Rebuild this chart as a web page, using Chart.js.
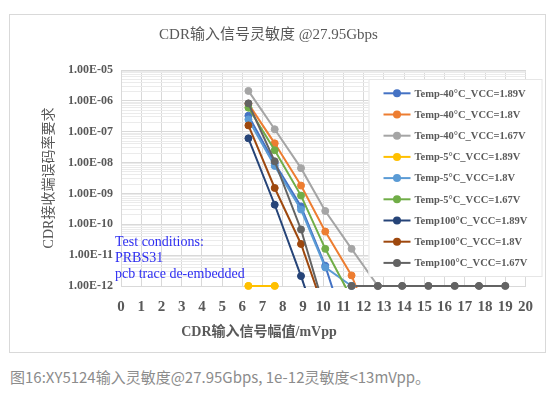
<!DOCTYPE html>
<html>
<head>
<meta charset="utf-8">
<script src="https://cdn.jsdelivr.net/npm/chart.js@4/dist/chart.umd.min.js"></script>
<style>
  body { margin: 0; background: #fff; }
  #box { position: absolute; left: 9px; top: 14px; width: 535px; height: 337px; border: 1px solid #d9d9d9; }
  #caption { position: absolute; left: 10px; top: 366px; line-height: 22px; font-size: 15px;
    font-family: "Noto Sans CJK SC", sans-serif; color: #8c8c8c; white-space: nowrap; }
</style>
</head>
<body>
<div id="box"><canvas id="chart" width="535" height="337"></canvas></div>
<div id="caption">图16:XY5124输入灵敏度@27.95Gbps, 1e-12灵敏度&lt;13mVpp。</div>
<script>
// input amplitude steps (mVpp), shared by every curve
var amplitudes = [6.3, 7.6, 8.9, 10.1, 11.4, 12.7, 13.9, 15.2, 16.5, 17.7, 19.0]

var seriesNames = [
  "Temp-40°C_VCC=1.89V",
  "Temp-40°C_VCC=1.8V",
  "Temp-40°C_VCC=1.67V",
  "Temp-5°C_VCC=1.89V",
  "Temp-5°C_VCC=1.8V",
  "Temp-5°C_VCC=1.67V",
  "Temp100°C_VCC=1.89V",
  "Temp100°C_VCC=1.8V",
  "Temp100°C_VCC=1.67V",
]
var seriesColors = ["#4472C4", "#ED7D31", "#A5A5A5", "#FFC000", "#5B9BD5", "#70AD47", "#264478", "#9E480E", "#636363"]

// bit error rate at each amplitude (values under 1e-12 run off the bottom of the plot)
var ber_m40_189 = [3.3e-7, 9.5e-9, 3.8e-10, 4.5e-12, 1e-14]
var ber_m40_18 = [8e-7, 4.2e-8, 1.8e-9, 5.8e-11, 2.2e-12, 1.5e-14]
var ber_m40_167 = [2.1e-6, 1.2e-7, 6.6e-9, 2.7e-10, 1.6e-11, 1e-12]
var ber_m5_189 = [1e-12, 1e-12]
var ber_m5_18 = [2.5e-7, 7.8e-9, 3e-10, 4e-12, 1e-12]
var ber_m5_167 = [6e-7, 2.5e-8, 8.5e-10, 1.6e-11, 4e-13]
var ber_100_189 = [6.1e-8, 4.3e-10, 2.1e-12, 1e-14]
var ber_100_18 = [1.6e-7, 1.5e-9, 2.3e-11, 1.3e-13]
var ber_100_167 = [8.3e-7, 1.1e-8, 6.8e-11, 1.5e-13, 1e-12, 1e-12, 1e-12, 1e-12, 1e-12, 1e-12, 1e-12]

var seriesValues = [ber_m40_189, ber_m40_18, ber_m40_167, ber_m5_189, ber_m5_18, ber_m5_167, ber_100_189, ber_100_18, ber_100_167]

var testNotes = ["Test conditions:", "PRBS31", "pcb trace de-embedded"]
var xTitle = "CDR输入信号幅值/mVpp"

var serif = '"Liberation Serif", "Noto Sans CJK SC", serif'
var textGray = "#595959"

function isDecade(v) {
  var l = Math.log10(v)
  return Math.abs(l - Math.round(l)) < 1e-9
}

// 1,2,...,9 x 10^n ticks so the minor grid looks like Excel's
var logTicks = []
for (var e = -12; e < -5; e++) {
  for (var m = 1; m <= 9; m++) logTicks.push(parseFloat(m + "e" + e))
}
logTicks.push(1e-5)

var datasets = seriesValues.map(function(vals, i) {
  return {
    label: seriesNames[i],
    data: vals.map(function(v, j) { return {x: amplitudes[j], y: v} }),
    borderColor: seriesColors[i],
    backgroundColor: seriesColors[i],
    pointBackgroundColor: seriesColors[i],
    pointBorderColor: seriesColors[i],
    borderWidth: 2,
    pointRadius: 3.5,
    pointBorderWidth: 1,
    tension: 0,
    order: seriesNames.length - i,
    clip: {left: 4, top: 4, right: 4, bottom: 2},
  }
})

// markers sitting on the 1e-12 floor get half clipped, so paint them again unclipped
var floorPoints = {
  id: "floorPoints",
  afterDatasetsDraw: function(chart) {
    var ctx = chart.ctx
    var metas = chart.getSortedVisibleDatasetMetas()
    for (var i = metas.length - 1; i >= 0; i--) {
      metas[i].data.forEach(function(pt) {
        if (Math.abs(pt.y - chart.chartArea.bottom) < 1) pt.draw(ctx, chart.chartArea)
      })
    }
  },
}

// legend box floating over the plot, x title and test notes
var overlay = {
  id: "overlay",
  afterDraw: function(chart) {
    var ctx = chart.ctx
    var area = chart.chartArea
    ctx.save()

    ctx.fillStyle = textGray
    ctx.font = "bold 14px " + serif
    ctx.textAlign = "center"
    ctx.textBaseline = "middle"
    ctx.fillText(xTitle, area.left + 138, area.bottom + 46)

    ctx.fillStyle = "#2e2ef2"
    ctx.font = "14px " + serif
    ctx.textAlign = "left"
    testNotes.forEach(function(t, i) {
      ctx.fillText(t, area.left - 6, area.bottom - 44 + i * 16.3)
    })

    var bx = area.right - 157, by = area.top + 9, bw = 174, bh = 198
    ctx.fillStyle = "#ffffff"
    ctx.fillRect(bx, by, bw, bh)
    ctx.strokeStyle = "#e6e6e6"
    ctx.lineWidth = 1
    ctx.strokeRect(bx + 0.5, by + 0.5, bw - 1, bh - 1)

    ctx.font = "bold 10.5px " + serif
    chart.data.datasets.forEach(function(ds, i) {
      var y = by + 14.3 + i * 21.2
      ctx.strokeStyle = ds.borderColor
      ctx.lineWidth = 2
      ctx.beginPath()
      ctx.moveTo(bx + 15, y)
      ctx.lineTo(bx + 42, y)
      ctx.stroke()
      ctx.fillStyle = ds.borderColor
      ctx.beginPath()
      ctx.arc(bx + 28.5, y, 4, 0, Math.PI * 2)
      ctx.fill()
      ctx.fillStyle = textGray
      ctx.fillText(ds.label, bx + 46, y + 0.5)
    })
    ctx.restore()
  },
}

new Chart(document.getElementById("chart"), {
  type: "line",
  data: {datasets: datasets},
  plugins: [floorPoints, overlay],
  options: {
    responsive: false,
    animation: false,
    devicePixelRatio: 1,
    layout: {padding: {left: 0, right: 18, top: 0, bottom: 0}},
    plugins: {
      legend: {display: false},
      tooltip: {enabled: false},
      title: {
        display: true,
        text: "CDR输入信号灵敏度 @27.95Gbps",
        color: textGray,
        font: {family: serif, size: 15, weight: "normal"},
        padding: {top: 11, bottom: 26},
      },
    },
    scales: {
      x: {
        type: "linear",
        min: 0,
        max: 20,
        ticks: {
          stepSize: 1,
          autoSkip: false,
          maxRotation: 0,
          color: textGray,
          font: {family: serif, size: 15, weight: "bold"},
          padding: 12,
        },
        grid: {color: "#d9d9d9", drawTicks: false},
        border: {color: "#d9d9d9"},
        afterFit: function(s) { s.height = 66 },
      },
      y: {
        type: "logarithmic",
        min: 1e-12,
        max: 1e-5,
        afterBuildTicks: function(s) {
          s.ticks = logTicks.map(function(v) { return {value: v} })
        },
        ticks: {
          autoSkip: false,
          color: textGray,
          font: {family: serif, size: 12, weight: "bold"},
          padding: 8,
          callback: function(v) {
            if (!isDecade(v)) return ""
            var p = -Math.round(Math.log10(v))
            return "1.00E-" + (p < 10 ? "0" + p : p)
          },
        },
        grid: {
          drawTicks: false,
          color: function(c) { return c.tick && isDecade(c.tick.value) ? "#d9d9d9" : "#ebebeb" },
        },
        border: {color: "#d9d9d9"},
        title: {
          display: true,
          text: "CDR接收端误码率要求",
          color: textGray,
          font: {family: serif, size: 14, weight: "normal"},
          padding: {top: 31, bottom: 0},
        },
        afterFit: function(s) { s.width = 111 },
      },
    },
  },
})
</script>
</body>
</html>
